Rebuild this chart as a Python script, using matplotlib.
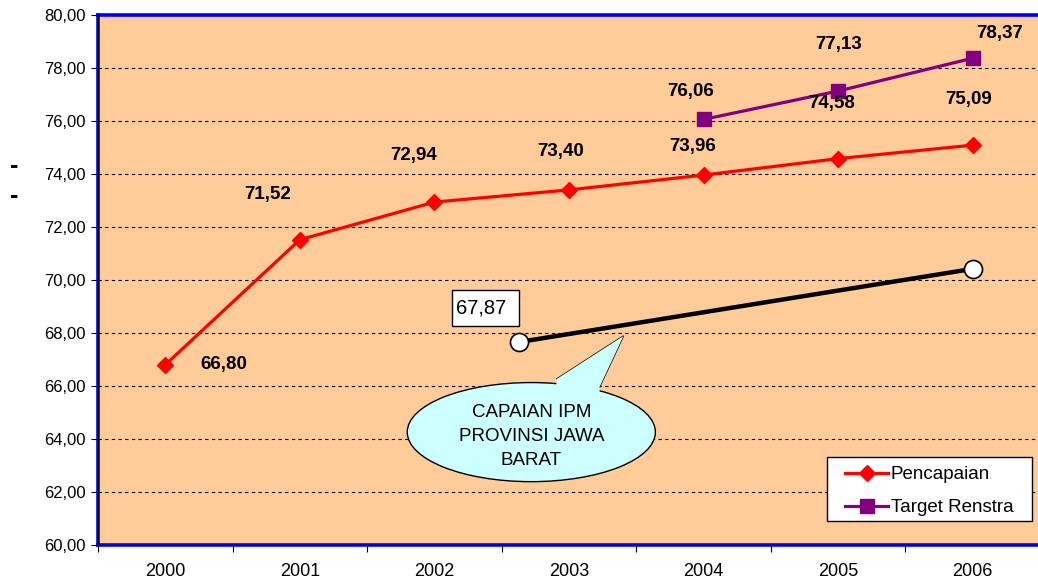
import matplotlib
matplotlib.use("Agg")
import matplotlib.pyplot as plt
from matplotlib.patches import Ellipse, Polygon, Rectangle
from matplotlib.ticker import FixedLocator, FuncFormatter

plt.rcParams['font.family'] = ['Liberation Sans', 'DejaVu Sans']

years = ['2000', '2001', '2002', '2003', '2004', '2005', '2006']
pencapaian = [66.80, 71.52, 72.94, 73.40, 73.96, 74.58, 75.09]
target_years = ['2004', '2005', '2006']
target = [76.06, 77.13, 78.37]
# Jawa Barat IPM line (annotation), position in category units
jabar_pos = [2.63, 6.0]
jabar_vals = [67.66, 70.42]
jabar_label = '67,87'
callout_text = 'CAPAIAN IPM\nPROVINSI JAWA\nBARAT'

# label offsets in pixels
pen_off = [(59, 0), (-32, 45), (-21, 47), (-8, 38), (-11, 29), (-6, 55), (-4, 46)]
tar_off = [(-13, 28), (0, 47), (27, 25)]

fig = plt.figure(figsize=(10.38, 5.8), dpi=100)
fig.patch.set_facecolor('white')
ax = fig.add_axes([98/1038, 35/580, (1040-98)/1038, 530/580])
ax.set_facecolor('#FFCC99')

x = list(range(len(years)))
tx = [years.index(y) for y in target_years]

ax.plot(x, pencapaian, color='#FF0000', lw=2.3, marker='D', ms=8.5, zorder=5, label='Pencapaian')
ax.plot(tx, target, color='#800080', lw=2.3, marker='s', ms=9.5, zorder=5, label='Target Renstra')
ax.plot(jabar_pos, jabar_vals, color='black', lw=3.2, marker='o', ms=13,
        mfc='white', mec='black', mew=1.2, zorder=6)

def fmt(v):
    return f'{v:.2f}'.replace('.', ',')

for xi, v, off in zip(x, pencapaian, pen_off):
    ax.annotate(fmt(v), (xi, v), xytext=off, textcoords='offset pixels',
                ha='center', va='center', fontsize=13.5, fontweight='bold', zorder=7)
for xi, v, off in zip(tx, target, tar_off):
    ax.annotate(fmt(v), (xi, v), xytext=off, textcoords='offset pixels',
                ha='center', va='center', fontsize=13.5, fontweight='bold', zorder=7)

ax.set_xlim(-0.5, 6.5)
ax.set_ylim(60, 80)
ax.yaxis.set_major_locator(FixedLocator([60 + 2*i for i in range(11)]))
ax.yaxis.set_major_formatter(FuncFormatter(lambda v, p: fmt(v)))
ax.set_xticks(x)
ax.set_xticklabels(years)
ax.set_xticks([i - 0.5 for i in range(len(years) + 1)], minor=True)
ax.tick_params(axis='x', which='major', length=0, labelsize=13, pad=13)
ax.tick_params(axis='x', which='minor', length=5, width=0.8, direction='out')
ax.tick_params(axis='y', which='major', length=5, width=0.8, direction='out', labelsize=12, pad=4)

for gy in range(62, 80, 2):
    ax.axhline(gy, color='black', lw=0.8, ls=(0, (3, 3)), zorder=1)

for s in ['top', 'bottom', 'left', 'right']:
    ax.spines[s].set_color('#0000FF')
    ax.spines[s].set_linewidth(2.6)
ax.axvline(-0.5, color='black', lw=0.9, zorder=8)
ax.axhline(60, color='black', lw=0.9, zorder=8)

# Callout bubble
tail = [(2.907, 66.26), (3.405, 67.89), (3.227, 65.96)]
ax.add_patch(Polygon(tail, closed=True, fc='#CCFFFF', ec='black', lw=1.0, zorder=3))
ax.add_patch(Ellipse((2.72, 64.26), 1.844, 3.74, fc='#CCFFFF', ec='black', lw=1.0, zorder=3))
tail_in = [(2.907, 66.0), (2.907, 66.26), (3.405, 67.89), (3.227, 65.96), (3.227, 65.7)]
ax.add_patch(Polygon(tail_in, closed=True, fc='#CCFFFF', ec='none', lw=0, zorder=3.5))
ax.text(2.72, 64.09, callout_text, ha='center', va='center', fontsize=13.5,
        linespacing=1.55, zorder=4)

# value box for the Jawa Barat line
ax.add_patch(Rectangle((2.134, 68.28), 2.625 - 2.134, 69.62 - 68.28,
                       fc='white', ec='black', lw=1.0, zorder=7))
ax.text(2.164, 68.96, jabar_label, ha='left', va='center', fontsize=14.5, zorder=8)

# legend with manual frame
ax.add_patch(Rectangle(((827-98)/942, (545-521)/530), 205/942, 64/530,
                       transform=ax.transAxes, fc='white', ec='black', lw=1.0, zorder=9))
leg = ax.legend(loc='upper left', bbox_to_anchor=((845-98)/942, (545-466)/530),
                fontsize=13.5, frameon=False, handlelength=2.3,
                borderpad=0, labelspacing=0.85, handletextpad=0.15, borderaxespad=0)
leg.set_zorder(10)

fig.text(14/1038, 1 - 166/580, '-', fontsize=18, fontweight='bold', ha='center', va='center')
fig.text(14/1038, 1 - 196/580, '-', fontsize=18, fontweight='bold', ha='center', va='center')

fig.savefig('out.png', dpi=100, facecolor='white')
